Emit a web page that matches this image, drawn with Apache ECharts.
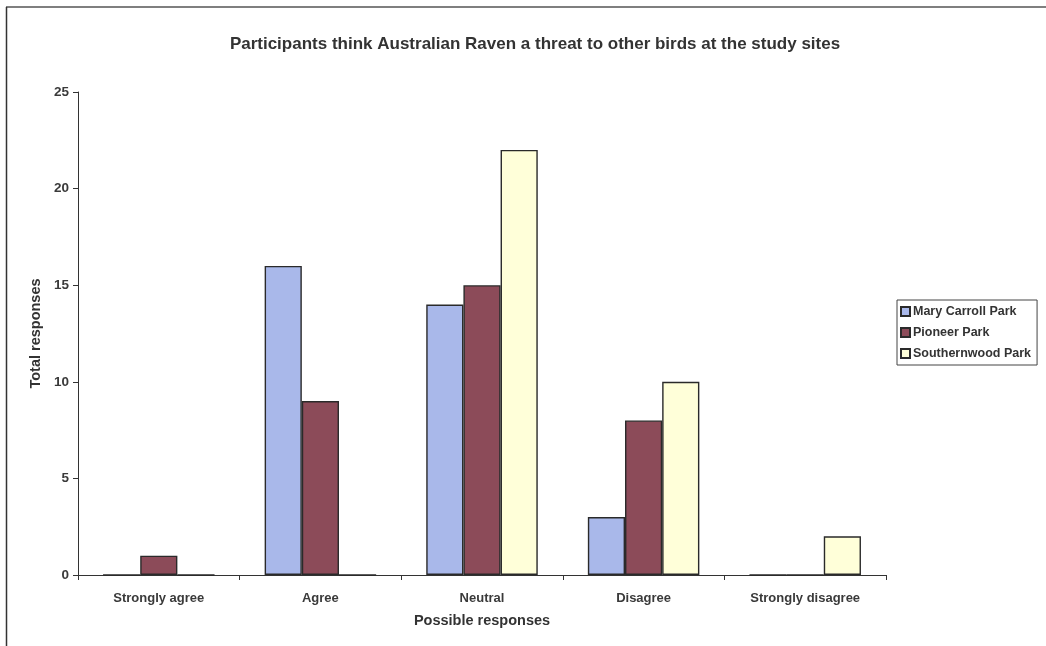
<!DOCTYPE html>
<html>
<head>
<meta charset="utf-8">
<script src="https://cdn.jsdelivr.net/npm/echarts@6/dist/echarts.min.js"></script>
<style>html,body{margin:0;padding:0;background:#fff}#c{width:1046px;height:646px}</style>
</head>
<body>
<div id="c"></div>
<script>
const categories = ['Strongly agree', 'Agree', 'Neutral', 'Disagree', 'Strongly disagree'];
const maryCarroll = [0, 16, 14, 3, 0];
const pioneer = [1, 9, 15, 8, 0];
const southernwood = [0, 0, 22, 10, 2];
const seriesNames = ['Mary Carroll Park', 'Pioneer Park', 'Southernwood Park'];
const yTicks = [0, 5, 10, 15, 20, 25];

const font = '"Liberation Sans", Arial, sans-serif';
const chart = echarts.init(document.getElementById('c'));
const colors = ['#a9b8ea', '#8c4b59', '#ffffd9'];
const mk = (name, data, i) => ({
  name, type: 'bar', data, barGap: '0%', barCategoryGap: '31%',
  itemStyle: { color: colors[i], borderColor: '#2a2a2a', borderWidth: 1.4 },
  emphasis: { disabled: true }
});
chart.setOption({
  animation: false,
  textStyle: { fontFamily: font },
  title: {
    text: 'Participants think Australian Raven a threat to other birds at the study sites',
    left: 530, top: 31, textAlign: 'center',
    textStyle: { fontFamily: font, fontSize: 17, fontWeight: 'bold', color: '#333' }
  },
  grid: { left: 78, right: 160, top: 92, bottom: 71, containLabel: false },
  legend: {
    orient: 'vertical', left: 897, top: 300,
    itemWidth: 9, itemHeight: 9, itemGap: 8, icon: 'rect',
    padding: [5, 6, 5, 3],
    borderColor: '#444', borderWidth: 1,
    textStyle: { fontFamily: font, fontSize: 12.5, fontWeight: 'bold', color: '#333', padding: [0, 0, 0, -2] },
    data: seriesNames
  },
  xAxis: {
    type: 'category', data: categories,
    name: 'Possible responses', nameLocation: 'middle', nameGap: 38,
    nameTextStyle: { fontFamily: font, fontSize: 14.5, fontWeight: 'bold', color: '#333' },
    axisLine: { lineStyle: { color: '#333', width: 1 } },
    axisTick: { show: true, alignWithLabel: false, length: 5, lineStyle: { color: '#333' } },
    axisLabel: { margin: 17, fontFamily: font, fontSize: 13, fontWeight: 'bold', color: '#3a3a3a' }
  },
  yAxis: {
    type: 'value', min: 0, max: 25, interval: 5,
    name: 'Total responses', nameLocation: 'middle', nameGap: 31, nameRotate: 90,
    nameTextStyle: { fontFamily: font, fontSize: 14.5, fontWeight: 'bold', color: '#333' },
    axisLine: { show: true, lineStyle: { color: '#333', width: 1 } },
    axisTick: { show: true, length: 5, lineStyle: { color: '#333' } },
    splitLine: { show: false },
    axisLabel: { margin: 9, fontFamily: font, fontSize: 13.5, fontWeight: 'bold', color: '#3a3a3a',
      formatter: v => yTicks.includes(v) ? String(v) : '' }
  },
  graphic: [
    { type: 'line', shape: { x1: 6, y1: 7, x2: 1046, y2: 7 }, style: { stroke: '#555', lineWidth: 1.5 } },
    { type: 'line', shape: { x1: 6.5, y1: 7, x2: 6.5, y2: 646 }, style: { stroke: '#333', lineWidth: 1.5 } }
  ],
  series: [mk(seriesNames[0], maryCarroll, 0), mk(seriesNames[1], pioneer, 1), mk(seriesNames[2], southernwood, 2)]
});
</script>
</body>
</html>
